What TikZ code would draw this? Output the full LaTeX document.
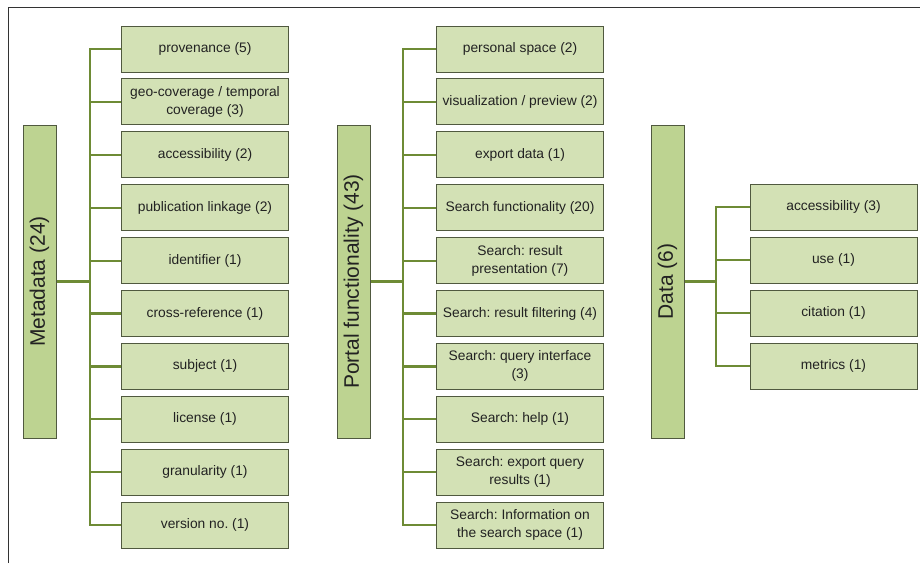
\documentclass[tikz,border=0pt]{standalone}
\usepackage{fontspec}
\setmainfont{Liberation Sans}
\frenchspacing
\definecolor{taxLeafFill}{HTML}{D3E1B5}
\definecolor{taxRootFill}{HTML}{BDD391}
\definecolor{taxEdge}{HTML}{50593F}
\definecolor{taxLink}{HTML}{6E8B35}
\definecolor{taxText}{HTML}{222222}
\tikzset{
  tax diagram/.style={
    x=1pt, y=-1pt,
    every node/.style={text=taxText, inner sep=2pt}
  },
  tax root/.style={draw=taxEdge, fill=taxRootFill, line width=1pt,
    rotate=90, minimum width=313pt, minimum height=33pt,
    font=\fontsize{21}{25}\selectfont},
  tax leaf/.style={draw=taxEdge, fill=taxLeafFill, line width=1pt,
    minimum width=167pt, minimum height=46pt, align=center,
    font=\fontsize{13.8}{18}\selectfont},
  tax link/.style={draw=taxLink, line width=2.2pt},
  tax frame/.style={draw=black!80, line width=1pt}
}

\begin{document}
\begin{tikzpicture}[tax diagram]
  \useasboundingbox (0,0) rectangle (920,563);
  \draw[tax frame] (8,563) -- (8,7) -- (920,7);

  % metadata branch
  \node[tax root] (meta) at (39.5,281.5) {Metadata (24)};
  \foreach \lbl [count=\i] in {provenance (5),
      {geo-coverage / temporal\\coverage (3)}, accessibility (2),
      publication linkage (2), identifier (1), cross-reference (1),
      subject (1), license (1), granularity (1), version no. (1)}
    \node[tax leaf] (m\i) at (205,{49+52.9*(\i-1)}) {\lbl};
  \coordinate (mBus) at (90,0);
  \draw[tax link] (meta.south) -- (meta.south -| mBus);
  \draw[tax link] (m1.west) -- (m1.west -| mBus) -- (m10.west -| mBus) -- (m10.west);
  \foreach \i in {2,...,9}
    \draw[tax link] (m\i.west -| mBus) -- (m\i.west);

  % portal branch
  \node[tax root] (portal) at (353.5,281.5) {Portal functionality (43)};
  \foreach \lbl [count=\i] in {personal space (2),
      visualization / preview (2), export data (1),
      Search functionality (20), {Search: result\\presentation (7)},
      Search: result filtering (4), {Search: query interface\\(3)},
      Search: help (1), {Search: export query\\results (1)},
      {Search: Information on\\the search space (1)}}
    \node[tax leaf] (p\i) at (520,{49+52.9*(\i-1)}) {\lbl};
  \coordinate (pBus) at (403,0);
  \draw[tax link] (portal.south) -- (portal.south -| pBus);
  \draw[tax link] (p1.west) -- (p1.west -| pBus) -- (p10.west -| pBus) -- (p10.west);
  \foreach \i in {2,...,9}
    \draw[tax link] (p\i.west -| pBus) -- (p\i.west);

  % data branch
  \node[tax root] (data) at (667.5,281.5) {Data (6)};
  \foreach \lbl [count=\i] in {accessibility (3), use (1),
      citation (1), metrics (1)}
    \node[tax leaf] (d\i) at (833.5,{207+53*(\i-1)}) {\lbl};
  \coordinate (dBus) at (716,0);
  \draw[tax link] (data.south) -- (data.south -| dBus);
  \draw[tax link] (d1.west) -- (d1.west -| dBus) -- (d4.west -| dBus) -- (d4.west);
  \foreach \i in {2,3}
    \draw[tax link] (d\i.west -| dBus) -- (d\i.west);
\end{tikzpicture}
\end{document}
